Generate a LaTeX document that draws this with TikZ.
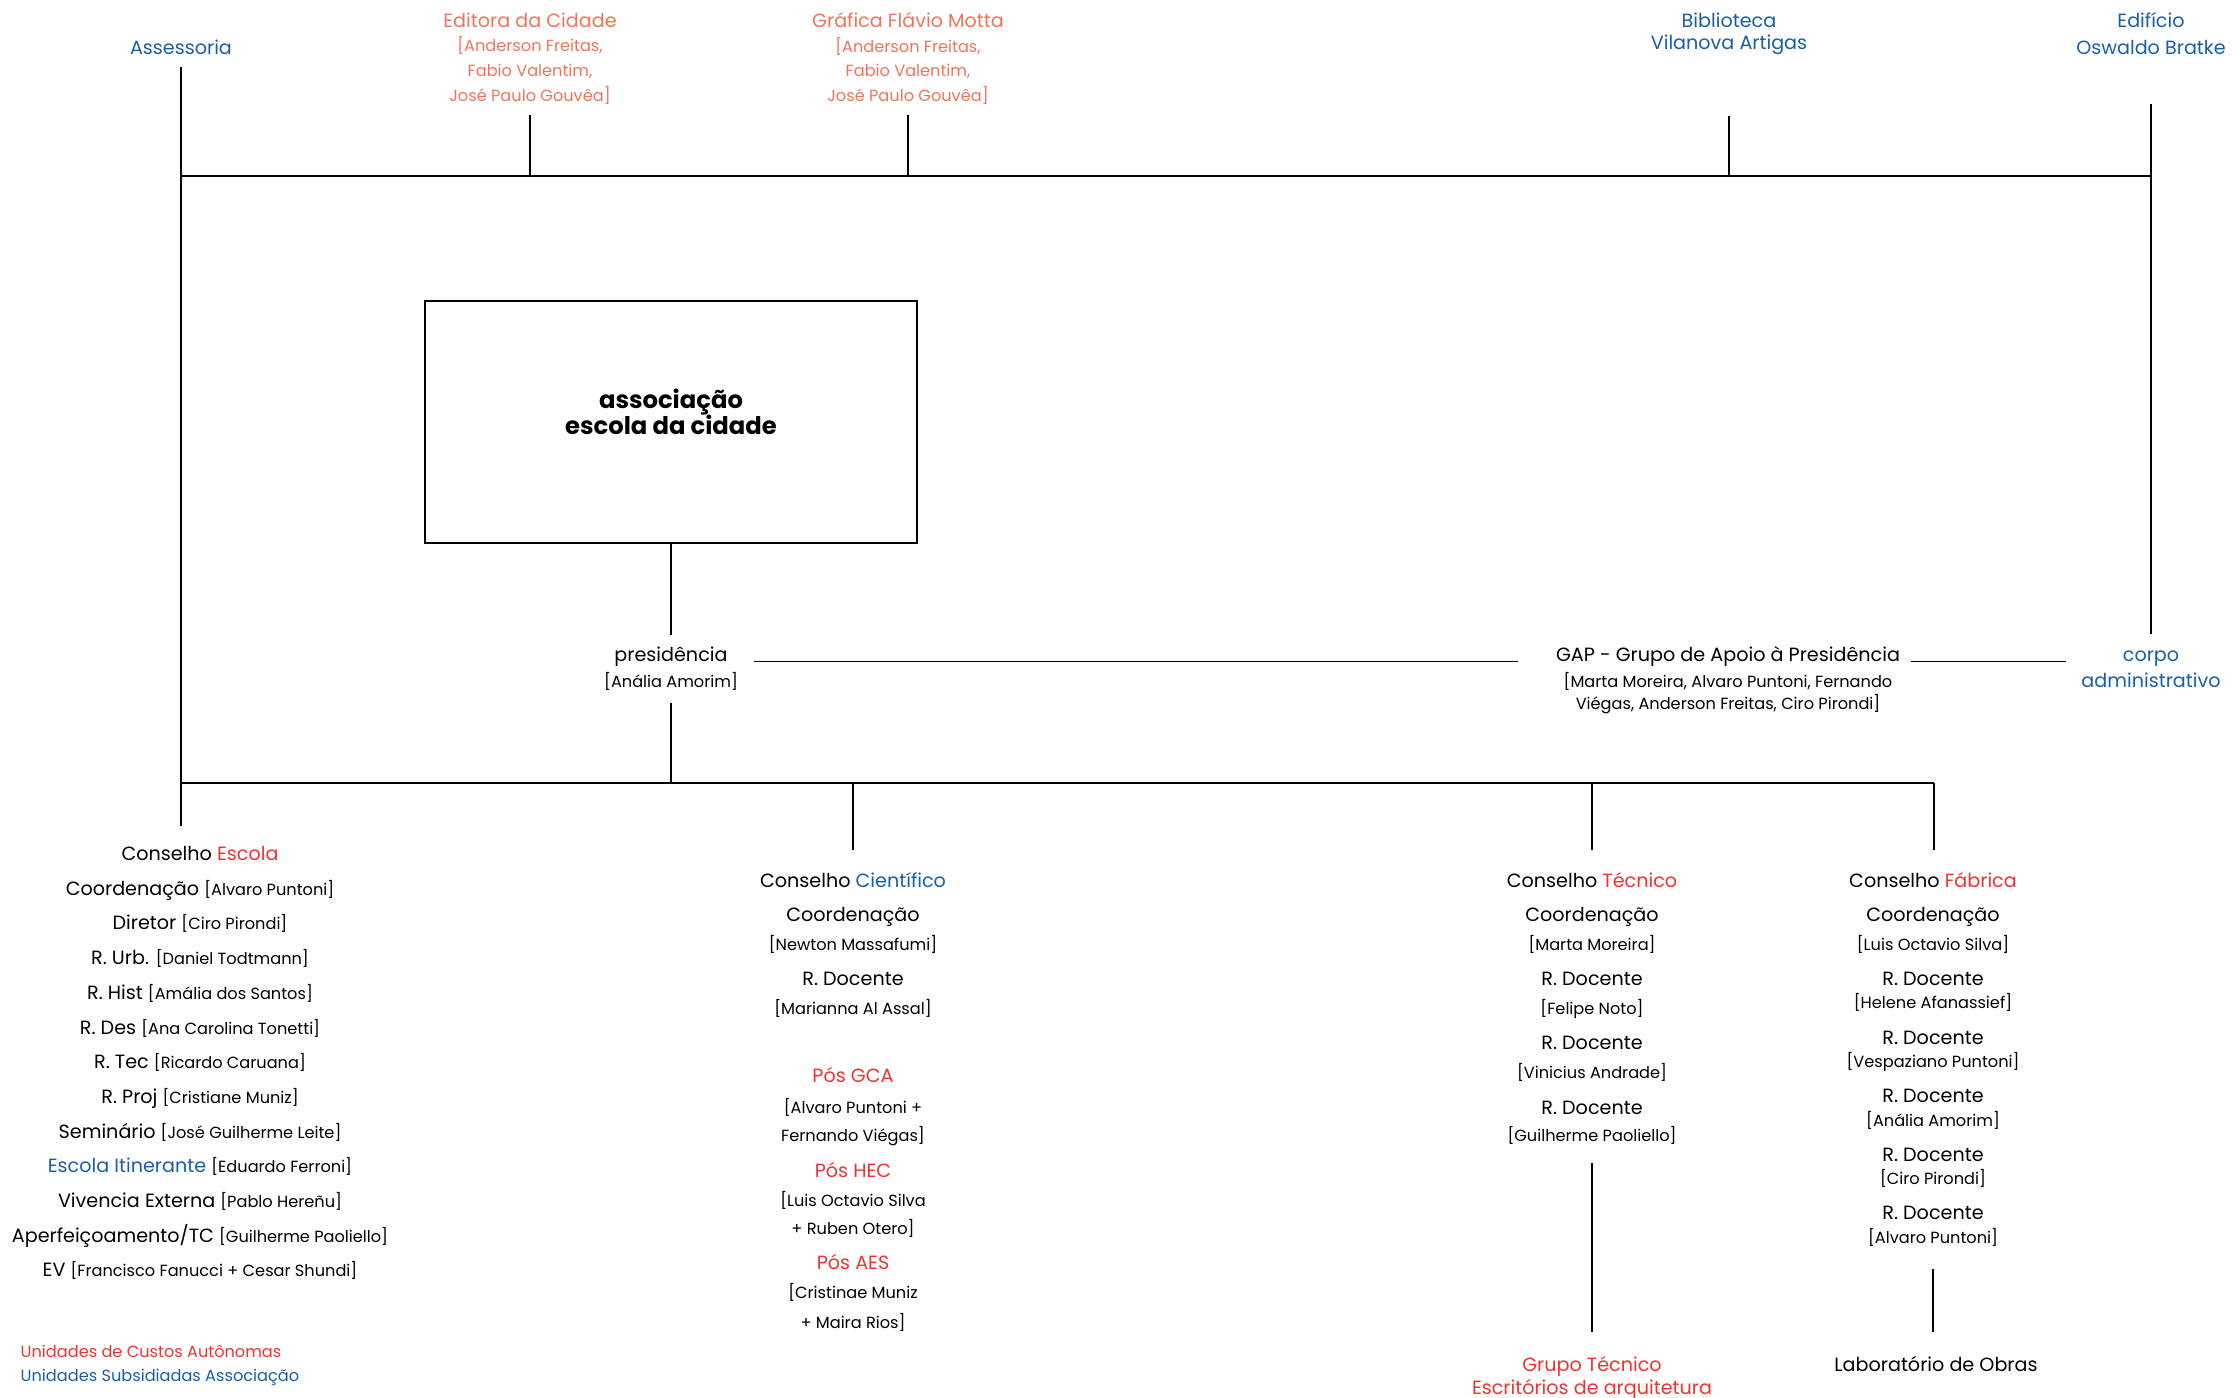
\documentclass[tikz,border=0pt]{standalone}
\usepackage{fontspec}
\setmainfont{Poppins}
\usepackage{tikz}
\usepackage{xcolor}

\definecolor{ecblue}{HTML}{1A5EA8}
\definecolor{ecred}{HTML}{EE3330}
\definecolor{ecsalmon}{HTML}{F2735A}

\newcommand\bigtxt{\fontsize{5.45}{7}\selectfont}
\newcommand\nametxt{\fontsize{4.6}{7}\selectfont}
\newcommand\boxtxt{\fontsize{6.9}{7.4}\selectfont\bfseries}

\begin{document}
\begin{tikzpicture}[x=0.01cm, y=-0.01cm, line width=0.4pt,
    lbl/.style={font=\bigtxt, anchor=base, inner sep=0pt, yshift=-0.075cm},
    nm/.style={font=\nametxt, anchor=base, inner sep=0pt, yshift=-0.065cm},
    toplbl/.style={font=\bigtxt, align=center, anchor=north, inner sep=0pt},
    bar/.style={line width=0.6pt}]
    \useasboundingbox (0,0) rectangle (2239,1398);

    % top row
    \node[lbl, text=ecblue] (ass) at (181,47) {Assessoria};
    \node[toplbl, text=ecsalmon] (edit) at (530,12) {Editora da Cidade\\
      {\nametxt [Anderson Freitas,}\\{\nametxt Fabio Valentim,}\\{\nametxt José Paulo Gouvêa]}};
    \node[toplbl, text=ecsalmon] (graf) at (908,12) {Gráfica Flávio Motta\\
      {\nametxt [Anderson Freitas,}\\{\nametxt Fabio Valentim,}\\{\nametxt José Paulo Gouvêa]}};
    \node[toplbl, text=ecblue] (bibl) at (1729,12) {Biblioteca\\[-0.6pt]Vilanova Artigas};
    \node[toplbl, text=ecblue] (edif) at (2151,12) {Edifício\\[0.7pt]Oswaldo Bratke};
    \coordinate (tl) at (181,176);
    \coordinate (tr) at (2152,176);
    \draw[bar] (tl) -- (tr);
    \draw[shorten <=0.1cm] (edit.south) -- (edit.south |- tl);
    \draw[shorten <=0.1cm] (graf.south) -- (graf.south |- tl);
    \draw[shorten <=0.6cm] (bibl.south) -- (bibl.south |- tl);

    % association box and presidency
    \node[draw, line width=0.5pt, minimum width=4.92cm, minimum height=2.42cm,
      font=\boxtxt, align=center, text depth=0.2cm] (assoc) at (671,422) {associação\\escola da cidade};
    \node[lbl] (pres) at (671,654) {presidência};
    \node[nm] (presn) at (671,681) {[Anália Amorim]};
    \node[lbl] (gap) at (1728,654) {GAP - Grupo de Apoio à Presidência};
    \node[nm] (gapa) at (1728,681) {[Marta Moreira, Alvaro Puntoni, Fernando};
    \node[nm] (gapb) at (1728,703) {Viégas, Anderson Freitas, Ciro Pirondi]};
    \node[lbl, text=ecblue] (corpo) at (2151,654) {corpo};
    \node[lbl, text=ecblue] (corpob) at (2151,680) {administrativo};
    \draw[shorten >=0.11cm] (assoc.south) -- (pres.north);
    \draw[shorten <=0.26cm, shorten >=0.37cm] (pres.base east) -- (gap.base west);
    \draw[shorten <=0.1cm, shorten >=0.15cm] (gap.base east) -- (gap.base east -| corpob.west);
    \draw[bar, shorten <=0.48cm, shorten >=0.16cm] (edif.south) -- (edif.south |- corpo.north);

    % councils
    \coordinate (bl) at (181,783);
    \coordinate (br) at (1934,783);
    \foreach \txt [count=\i] in {{Conselho \textcolor{ecred}{Escola}},
        {Coordenação {\nametxt [Alvaro Puntoni]}},
        {Diretor {\nametxt [Ciro Pirondi]}},
        {R. Urb. {\nametxt [Daniel Todtmann]}},
        {R. Hist {\nametxt [Amália dos Santos]}},
        {R. Des {\nametxt [Ana Carolina Tonetti]}},
        {R. Tec {\nametxt [Ricardo Caruana]}},
        {R. Proj {\nametxt [Cristiane Muniz]}},
        {Seminário {\nametxt [José Guilherme Leite]}},
        {\textcolor{ecblue}{Escola Itinerante} {\nametxt [Eduardo Ferroni]}},
        {Vivencia Externa {\nametxt [Pablo Hereñu]}},
        {Aperfeiçoamento/TC {\nametxt [Guilherme Paoliello]}},
        {EV {\nametxt [Francisco Fanucci + Cesar Shundi]}}}
      \node[lbl] (esc\i) at (200,{853+34.7*(\i-1)}) {\txt};
    \foreach \y/\s/\txt [count=\i] in {880/lbl/{Conselho \textcolor{ecblue}{Científico}},
        914/lbl/{Coordenação}, 944/nm/{[Newton Massafumi]},
        978/lbl/{R. Docente}, 1008/nm/{[Marianna Al Assal]},
        1075/lbl/{\textcolor{ecred}{Pós GCA}}, 1107/nm/{[Alvaro Puntoni +}, 1135/nm/{Fernando Viégas]},
        1170/lbl/{\textcolor{ecred}{Pós HEC}}, 1200/nm/{[Luis Octavio Silva}, 1228/nm/{+ Ruben Otero]},
        1262/lbl/{\textcolor{ecred}{Pós AES}}, 1292/nm/{[Cristinae Muniz}, 1322/nm/{+ Maira Rios]}}
      \node[\s] (cc\i) at (853,\y) {\txt};
    \foreach \y/\s/\txt [count=\i] in {880/lbl/{Conselho \textcolor{ecred}{Técnico}},
        914/lbl/{Coordenação}, 944/nm/{[Marta Moreira]},
        978/lbl/{R. Docente}, 1008/nm/{[Felipe Noto]},
        1042/lbl/{R. Docente}, 1072/nm/{[Vinicius Andrade]},
        1107/lbl/{R. Docente}, 1135/nm/{[Guilherme Paoliello]}}
      \node[\s] (ct\i) at (1592,\y) {\txt};
    \foreach \y/\s/\txt [count=\i] in {880/lbl/{Conselho \textcolor{ecred}{Fábrica}},
        914/lbl/{Coordenação}, 944/nm/{[Luis Octavio Silva]},
        978/lbl/{R. Docente}, 1002/nm/{[Helene Afanassief]},
        1037/lbl/{R. Docente}, 1061/nm/{[Vespaziano Puntoni]},
        1095/lbl/{R. Docente}, 1120/nm/{[Anália Amorim]},
        1154/lbl/{R. Docente}, 1178/nm/{[Ciro Pirondi]},
        1212/lbl/{R. Docente}, 1237/nm/{[Alvaro Puntoni]}}
      \node[\s] (cf\i) at (1933,\y) {\txt};
    \node[lbl, text=ecred] (grp) at (1592,1364) {Grupo Técnico};
    \node[lbl, text=ecred] (grpb) at (1592,1387) {Escritórios de arquitetura};
    \node[lbl] (lab) at (1936,1364) {Laboratório de Obras};

    \draw[shorten <=0.12cm, shorten >=0.2cm] (ass.south) -- (ass.south |- esc1.north);
    \draw[shorten <=0.12cm] (presn.south) -- (presn.south |- bl);
    \draw (bl) -- (br);
    \draw[shorten >=0.22cm] (cc1.north |- bl) -- (cc1.north);
    \draw[shorten >=0.22cm] (ct1.north |- bl) -- (ct1.north);
    \draw[shorten >=0.22cm] (br) -- (br |- cf1.north);
    \draw[shorten <=0.18cm, shorten >=0.24cm] (ct9.south) -- (grp.north);
    \draw[shorten <=0.22cm, shorten >=0.24cm] (cf13.south) -- (cf13.south |- lab.north);

    % legend
    \node[nm, anchor=base west, text=ecred] (leg1) at (20,1351) {Unidades de Custos Autônomas};
    \node[nm, anchor=base west, text=ecblue] (leg2) at (20,1375) {Unidades Subsidiadas Associação};
\end{tikzpicture}
\end{document}
